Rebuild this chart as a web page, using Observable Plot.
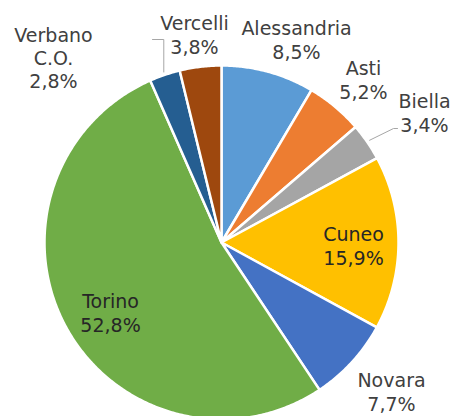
<!DOCTYPE html>
<html>
<head>
<meta charset="utf-8">
<script src="https://cdn.jsdelivr.net/npm/d3@7"></script>
<script src="https://cdn.jsdelivr.net/npm/@observablehq/plot@0.6"></script>
<style>
  html, body { margin: 0; padding: 0; background: #fff; }
  #chart svg { display: block; }
</style>
</head>
<body>
<div id="chart"></div>
<script>
// ---- data ----
const provinces = ["Alessandria", "Asti", "Biella", "Cuneo", "Novara", "Torino", "Verbano C.O.", "Vercelli"];
const shares = [8.5, 5.2, 3.4, 15.9, 7.7, 52.8, 2.8, 3.8];
const labelNames = ["Alessandria", "Asti", "Biella", "Cuneo", "Novara", "Torino", "Verbano\nC.O.", "Vercelli"];
const colors = ["#5B9BD5", "#ED7D31", "#A5A5A5", "#FFC000", "#4472C4", "#70AD47", "#255E91", "#9E480E"];

// ---- layout ----
const W = 453, H = 416;
const cx = 221, cy = 242, R = 177;
// label block centres (manually placed labels, as in the original)
const labelPos = {
  "Alessandria": [296, 39],
  "Asti": [363, 79],
  "Biella": [424, 112],
  "Cuneo": [353, 245],
  "Novara": [391, 391],
  "Torino": [110, 312],
  "Verbano C.O.": [53, 57],
  "Vercelli": [194, 34]
};
const inside = new Set(["Cuneo", "Torino"]);

const total = d3.sum(shares);
const pt = (a, r) => [cx + r * Math.sin(a), cy - r * Math.cos(a)];

// slice polygons
const slicePts = [];
const mids = {};
let acc = 0;
provinces.forEach((p, i) => {
  const a0 = acc / total * 2 * Math.PI;
  acc += shares[i];
  const a1 = acc / total * 2 * Math.PI;
  mids[p] = (a0 + a1) / 2;
  slicePts.push({name: p, x: cx, y: cy});
  const n = Math.max(2, Math.ceil((a1 - a0) / (Math.PI / 360)));
  for (let k = 0; k <= n; k++) {
    const [x, y] = pt(a0 + (a1 - a0) * k / n, R);
    slicePts.push({name: p, x, y});
  }
});

const fmt = v => v.toFixed(1).replace(".", ",") + "%";
const labels = provinces.map((p, i) => ({
  name: p,
  text: labelNames[i] + "\n" + fmt(shares[i]),
  x: labelPos[p][0],
  y: labelPos[p][1],
  color: inside.has(p) ? "#262626" : "#404040"
}));

// leader lines
const bE = pt(mids["Biella"], R + 3);
const vE = pt(mids["Verbano C.O."], R + 3);
const leaders = [
  {id: "b", x: bE[0], y: bE[1]},
  {id: "b", x: labelPos["Biella"][0] - 31, y: labelPos["Biella"][1] + 16},
  {id: "b", x: labelPos["Biella"][0] - 27, y: labelPos["Biella"][1] + 16},
  {id: "v", x: labelPos["Vercelli"][0] - 42, y: labelPos["Vercelli"][1] + 5},
  {id: "v", x: vE[0], y: labelPos["Vercelli"][1] + 5},
  {id: "v", x: vE[0], y: vE[1]}
];

const chart = Plot.plot({
  width: W,
  height: H,
  margin: 0,
  x: {domain: [0, W], range: [0, W], axis: null},
  y: {domain: [0, H], range: [0, H], axis: null},
  color: {domain: provinces, range: colors},
  style: {background: "#fff"},
  marks: [
    Plot.line(slicePts, {
      x: "x", y: "y", z: "name", fill: "name",
      stroke: "#fff", strokeWidth: 2.5, curve: "linear-closed", strokeLinejoin: "round"
    }),
    Plot.line(leaders, {x: "x", y: "y", z: "id", stroke: "#a6a6a6", strokeWidth: 1}),
    Plot.text(labels, {
      x: "x", y: "y", text: "text", fill: "color",
      fontSize: 19, fontFamily: "DejaVu Sans", lineHeight: 1.22, textAnchor: "middle"
    })
  ]
});
document.getElementById("chart").appendChild(chart);
</script>
</body>
</html>
